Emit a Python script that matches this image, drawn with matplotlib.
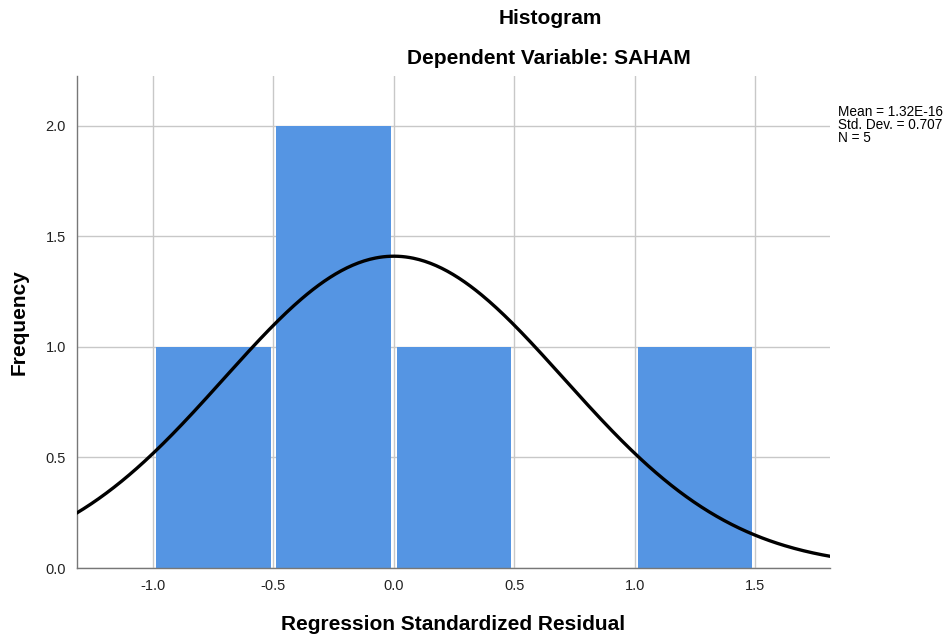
import numpy as np
import matplotlib
matplotlib.use("Agg")
import matplotlib.pyplot as plt

plt.rcParams["font.family"] = ["Liberation Sans", "DejaVu Sans"]

# histogram data
bin_edges = [-1.0, -0.5, 0.0, 0.5, 1.0, 1.5]
counts = [1, 2, 1, 0, 1]
mean = 1.32e-16
std_dev = 0.707
n = 5

x_ticks = [-1.0, -0.5, 0.0, 0.5, 1.0, 1.5]
y_ticks = [0.0, 0.5, 1.0, 1.5, 2.0]

fig = plt.figure(figsize=(9.52, 6.36), dpi=100)
ax = fig.add_axes([77 / 952, 68 / 636, (830 - 77) / 952, (568 - 76) / 636])

# bars sit a little inside their bins so the grid shows between them
gap = 0.012
lefts = np.array(bin_edges[:-1]) + gap
widths = np.diff(bin_edges) - 2 * gap
ax.bar(lefts, counts, width=widths, align="edge", color="#5595e3",
       linewidth=0, zorder=2)

# normal curve scaled to counts
bw = bin_edges[1] - bin_edges[0]
xs = np.linspace(-1.32, 1.82, 400)
ys = n * bw / (std_dev * np.sqrt(2 * np.pi)) * np.exp(-0.5 * ((xs - mean) / std_dev) ** 2)
ax.plot(xs, ys, color="black", linewidth=2.4, zorder=3)

ax.set_xlim(-1.316, 1.811)
ax.set_ylim(0, 2.226)
ax.set_xticks(x_ticks)
ax.set_xticklabels([f"{v:.1f}" for v in x_ticks])
ax.set_yticks(y_ticks)
ax.set_yticklabels([f"{v:.1f}" for v in y_ticks])
ax.tick_params(length=0, labelsize=10.5, colors="#222222", pad=8)
ax.grid(True, color="#c8c8c8", linewidth=1.0, zorder=0)
ax.set_axisbelow(True)
for s in ["top", "right"]:
    ax.spines[s].set_visible(False)
for s in ["left", "bottom"]:
    ax.spines[s].set_color("#777777")
    ax.spines[s].set_linewidth(1.0)

ax.set_xlabel("Regression Standardized Residual", fontsize=15, fontweight="bold", labelpad=16)
ax.set_ylabel("Frequency", fontsize=15, fontweight="bold", labelpad=12)

fig.text(550 / 952, 1 - 18 / 636, "Histogram", ha="center", va="center", fontsize=15, fontweight="bold")
fig.text(549 / 952, 1 - 59 / 636, "Dependent Variable: SAHAM", ha="center", va="center",
         fontsize=15, fontweight="bold")

fig.text(838 / 952, 1 - 105 / 636, f"Mean = 1.32E-16\nStd. Dev. = {std_dev}\nN = {n}",
         ha="left", va="top", fontsize=9.8, linespacing=0.9)

fig.savefig("out.png", dpi=100)
